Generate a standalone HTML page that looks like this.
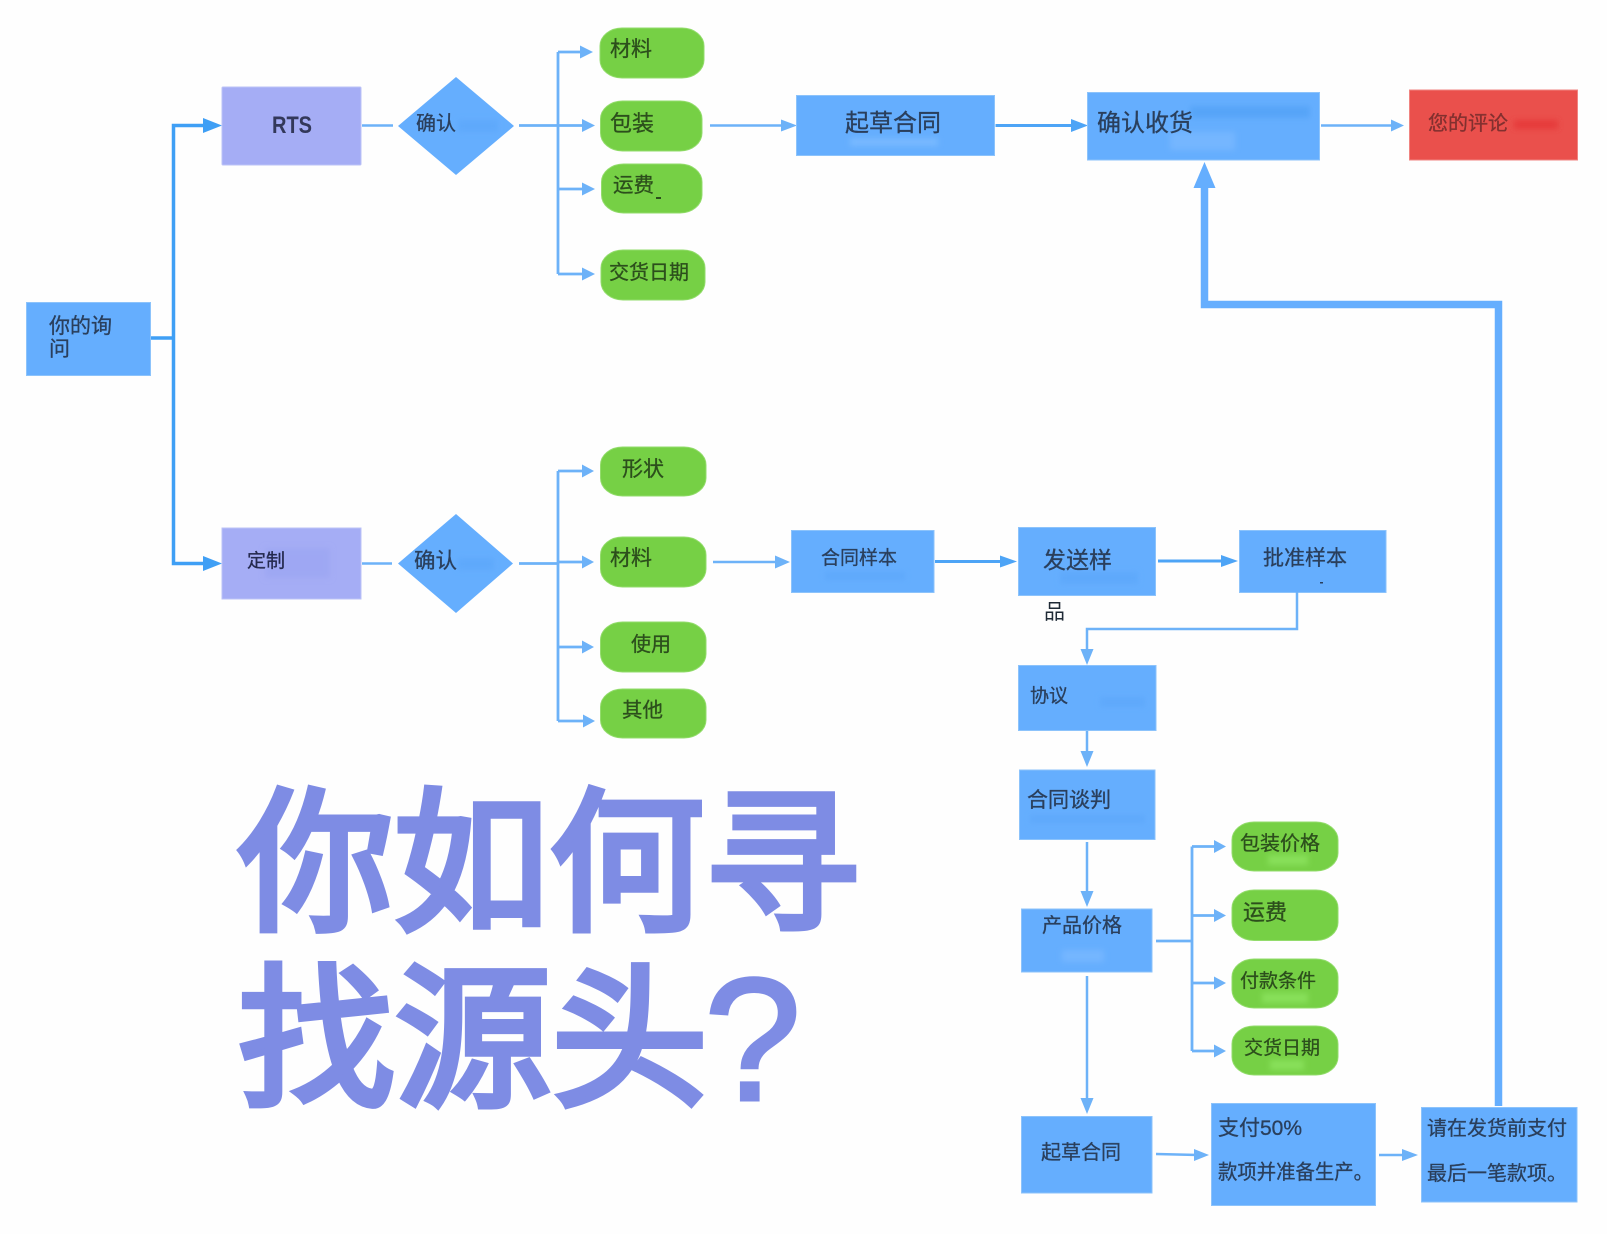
<!DOCTYPE html>
<html lang="zh">
<head>
<meta charset="utf-8">
<title>你如何寻找源头?</title>
<style>
html,body{margin:0;padding:0;background:#fff;width:1607px;height:1234px;overflow:hidden}
svg{display:block}
text{font-family:"Liberation Sans","Noto Sans CJK SC","WenQuanYi Zen Hei",sans-serif}
.b{fill:#65aefe;stroke:#8cc3fb;stroke-width:1}
.p{fill:#76d045;stroke:#93dc6c;stroke-width:1}
.t{fill:#2a3f5c;stroke:#2a3f5c;stroke-width:.3}
.g{fill:#2c4f1c;stroke:#2c4f1c;stroke-width:.3}
.l{fill:none;stroke:#6db2f8;stroke-width:2.5}
.h{fill:#6db2f8}
.m{fill:none;stroke:#3f9ff5;stroke-width:3.5}
.mh{fill:#3f9ff5}
.big{fill:#7e8ce4;stroke:#7e8ce4;stroke-width:6.5;font-weight:400}
.s{filter:url(#bl)}
</style>
</head>
<body>
<svg width="1607" height="1234" viewBox="0 0 1607 1234" xmlns="http://www.w3.org/2000/svg">
<defs><filter id="bl" x="-30%" y="-60%" width="160%" height="220%"><feGaussianBlur stdDeviation="3"/></filter></defs>
<rect width="1607" height="1234" fill="#fefefe"/>

<!-- main connectors -->
<path class="m" d="M151 338H173.5M204 125.5H173.5V563.5H204"/>
<polygon class="mh" points="222,125.5 203,118 203,133"/>
<polygon class="mh" points="222,563.5 203,556 203,571"/>

<!-- left box -->
<rect class="b" x="26.5" y="302.5" width="124" height="73"/>
<text class="t" x="49" y="333" font-size="21" textLength="63" lengthAdjust="spacingAndGlyphs">你的询</text>
<text class="t" x="49" y="356" font-size="21">问</text>

<!-- RTS row -->
<rect x="222" y="87" width="139" height="78" rx="1" fill="#a5adf5" stroke="#bcc2f7"/>
<text x="272" y="133" font-size="24" font-weight="700" fill="#33385a" textLength="40" lengthAdjust="spacingAndGlyphs">RTS</text>
<path class="l" d="M362 125.5H393"/>
<polygon fill="#65aefe" points="398,126 456,77 514,126 456,175"/>
<rect class="s" x="458" y="120" width="40" height="12" fill="#5ea9fb"/>
<text class="t" x="416" y="130" font-size="20">确认</text>
<path class="l" style="stroke-width:2.8" d="M519 125.5H583M558 274H583M558 189H583M558 52H583M558 52V274"/>
<polygon class="h" points="593,52 580,45.5 580,58.5"/>
<polygon class="h" points="595,125.5 582,119 582,132"/>
<polygon class="h" points="595,189 582,182.5 582,195.5"/>
<polygon class="h" points="595,274 582,267.5 582,280.5"/>

<rect class="p" x="600" y="28" width="104" height="50" rx="22" ry="18"/>
<rect class="p" x="600.5" y="101" width="101.5" height="50" rx="22" ry="18"/>
<rect class="p" x="601.5" y="164" width="100.5" height="49" rx="22" ry="18"/>
<rect class="p" x="601" y="250" width="104" height="50" rx="22" ry="18"/>
<text class="g" x="610" y="56" font-size="21">材料</text>
<text class="g" x="610" y="131" font-size="22">包装</text>
<text class="g" x="613" y="192" font-size="20.5">运费</text>
<text class="g" x="609" y="279" font-size="20">交货日期</text>
<rect x="656" y="197" width="5" height="2" fill="#2c4f1c"/>

<path class="l" d="M710 125.5H785"/>
<polygon class="h" points="797,125.5 781,119.5 781,131.5"/>
<rect class="b" x="796.5" y="95.5" width="198" height="60"/>
<rect class="s" x="850" y="138" width="88" height="8" fill="#78b9ff"/>
<text class="t" x="845" y="131" font-size="24">起草合同</text>

<path d="M995.5 125.5H1075" fill="none" stroke="#4da4f6" stroke-width="3"/>
<polygon fill="#4da4f6" points="1088,125.5 1071,119 1071,132"/>
<rect class="b" x="1087.5" y="92.5" width="232" height="67.5"/>
<rect class="s" x="1190" y="106" width="120" height="12" fill="#57a4f8"/>
<rect class="s" x="1170" y="132" width="65" height="18" fill="#74b6ff"/>
<text class="t" x="1097" y="131" font-size="24">确认收货</text>

<path class="l" d="M1321 125.5H1392"/>
<polygon class="h" points="1404,125.5 1391,119.5 1391,131.5"/>
<rect x="1409.5" y="90" width="168" height="70" fill="#ea504c" stroke="#f08481"/>
<rect class="s" x="1514" y="120" width="44" height="9" fill="#e63b3b"/>
<text x="1428" y="130" font-size="20" fill="#82302f" stroke="#82302f" stroke-width=".3">您的评论</text>

<!-- thick return -->
<path d="M1498.5 1106V304.5H1204.5V185" fill="none" stroke="#65aefe" stroke-width="7.5"/>
<polygon fill="#65aefe" points="1204.5,162 1193.5,188 1215.5,188"/>

<!-- custom row -->
<rect x="222" y="528" width="139" height="71" fill="#a5adf5" stroke="#bcc2f7"/>
<rect class="s" x="265" y="548" width="65" height="30" fill="#9ea7f3"/>
<text x="247" y="567" font-size="19" fill="#252a4e" stroke="#252a4e" stroke-width=".3">定制</text>
<path class="l" d="M362 563.5H392"/>
<polygon fill="#65aefe" points="398,563.5 456,514 513,563.5 456,613"/>
<rect class="s" x="458" y="558" width="36" height="12" fill="#5ea9fb"/>
<text class="t" x="414" y="568" font-size="21.5">确认</text>
<path class="l" style="stroke-width:2.8" d="M519 563.5H558M558 471V721M558 471H584M558 562H584M558 647H584M558 721H584"/>
<polygon class="h" points="594,471 582,464.5 582,477.5"/>
<polygon class="h" points="594,562 582,555.5 582,568.5"/>
<polygon class="h" points="594,647 582,640.5 582,653.5"/>
<polygon class="h" points="595,721 583,714.5 583,727.5"/>

<rect class="p" x="600.5" y="447" width="105.5" height="49" rx="22" ry="18"/>
<rect class="p" x="600.5" y="537" width="105.5" height="50" rx="22" ry="18"/>
<rect class="p" x="600.5" y="622" width="105.5" height="50" rx="22" ry="18"/>
<rect class="p" x="600.5" y="689" width="105.5" height="49" rx="22" ry="18"/>
<text class="g" x="622" y="476" font-size="21">形状</text>
<text class="g" x="610" y="565" font-size="21">材料</text>
<text class="g" x="631" y="651" font-size="20">使用</text>
<text class="g" x="622" y="717" font-size="20.5">其他</text>

<path class="l" d="M713 562H778"/>
<polygon class="h" points="790,562 775,555.5 775,568.5"/>
<rect class="b" x="791.5" y="530.5" width="142.5" height="62"/>
<rect class="s" x="825" y="572" width="80" height="8" fill="#5ea9fb"/>
<text class="t" x="821" y="564" font-size="19">合同样本</text>

<path d="M935 561.5H1005" fill="none" stroke="#4da4f6" stroke-width="3"/>
<polygon fill="#4da4f6" points="1017,561.5 1000,555.5 1000,567.5"/>
<rect class="b" x="1018.5" y="527.5" width="137" height="68"/>
<rect class="s" x="1060" y="572" width="78" height="12" fill="#5ea9fb"/>
<text class="t" x="1043" y="568" font-size="23">发送样</text>
<text x="1044" y="619" font-size="21" fill="#1f2a36">品</text>

<path d="M1158 561H1225" fill="none" stroke="#4da4f6" stroke-width="3"/>
<polygon fill="#4da4f6" points="1238,561 1221,555 1221,567"/>
<rect class="b" x="1239.5" y="530.5" width="146.5" height="62"/>
<text class="t" x="1263" y="565" font-size="21">批准样本</text>
<rect x="1320" y="582" width="3" height="1.5" fill="#2a3f5c"/>

<path class="l" d="M1297 592V629H1087V655"/>
<polygon class="h" points="1087,665 1080.5,649 1093.5,649"/>
<rect class="b" x="1018.5" y="665.5" width="137.5" height="65"/>
<rect class="s" x="1100" y="697" width="45" height="10" fill="#5ea9fb"/>
<text class="t" x="1030" y="702" font-size="19">协议</text>

<path class="l" d="M1087 731V757"/>
<polygon class="h" points="1087,767 1080.5,751 1093.5,751"/>
<rect class="b" x="1019.5" y="770" width="135.5" height="69.5"/>
<rect class="s" x="1030" y="815" width="115" height="8" fill="#5ea9fb"/>
<text class="t" x="1027" y="807" font-size="21">合同谈判</text>

<path class="l" d="M1087 842V897"/>
<polygon class="h" points="1087,907 1080.5,891 1093.5,891"/>
<rect class="b" x="1021.5" y="909" width="130.5" height="63"/>
<rect class="s" x="1062" y="950" width="42" height="12" fill="#74b6ff"/>
<text class="t" x="1042" y="932" font-size="20">产品价格</text>

<path class="l" d="M1087 976V1104"/>
<polygon class="h" points="1087,1114 1080.5,1098 1093.5,1098"/>
<rect class="b" x="1021.5" y="1116.5" width="130.5" height="76.5"/>
<text class="t" x="1041" y="1159" font-size="20">起草合同</text>

<path class="l" style="stroke-width:2.8" d="M1156 941H1192M1192 846.5V1051M1192 846.5H1216M1192 915.5H1216M1192 983H1216M1192 1051H1216"/>
<polygon class="h" points="1226,846.5 1214,840 1214,853"/>
<polygon class="h" points="1226,915.5 1214,909 1214,922"/>
<polygon class="h" points="1226,983 1214,976.5 1214,989.5"/>
<polygon class="h" points="1226,1051 1214,1044.5 1214,1057.5"/>

<rect class="p" x="1232" y="822" width="106" height="49" rx="22" ry="18"/>
<rect class="p" x="1232" y="890" width="106" height="50.5" rx="22" ry="18"/>
<rect class="p" x="1232" y="959" width="106" height="49" rx="22" ry="18"/>
<rect class="p" x="1232" y="1026" width="106" height="49" rx="22" ry="18"/>
<rect class="s" x="1268" y="855" width="40" height="10" fill="#88e05a"/>
<rect class="s" x="1262" y="993" width="46" height="10" fill="#88e05a"/>
<rect class="s" x="1270" y="1060" width="34" height="10" fill="#88e05a"/>
<text class="g" x="1240" y="850" font-size="20">包装价格</text>
<text class="g" x="1243" y="920" font-size="22">运费</text>
<text class="g" x="1240" y="987" font-size="19">付款条件</text>
<text class="g" x="1244" y="1054" font-size="19">交货日期</text>

<path class="l" d="M1156 1154L1198 1155"/>
<polygon class="h" points="1209,1155 1194,1149 1194,1161"/>
<rect class="b" x="1211.5" y="1103.5" width="164" height="102"/>
<text class="t" x="1218" y="1135" font-size="21">支付50%</text>
<text class="t" x="1218" y="1179" font-size="20.5" textLength="155" lengthAdjust="spacingAndGlyphs">款项并准备生产。</text>

<path class="l" d="M1379 1155H1408"/>
<polygon class="h" points="1418,1155 1402,1149 1402,1161"/>
<rect class="b" x="1421.5" y="1107.5" width="155.5" height="94.5"/>
<text class="t" x="1427" y="1135" font-size="20">请在发货前支付</text>
<text class="t" x="1427" y="1180" font-size="20">最后一笔款项。</text>

<!-- big title -->
<text class="big" x="238" y="918" font-size="155" textLength="622" lengthAdjust="spacingAndGlyphs">你如何寻</text>
<text class="big" x="238" y="1094" font-size="155" textLength="470" lengthAdjust="spacingAndGlyphs">找源头</text>
<text x="704" y="1100" font-size="175" fill="#7e8ce4" stroke="#7e8ce4" stroke-width="3">?</text>
</svg>
</body>
</html>
